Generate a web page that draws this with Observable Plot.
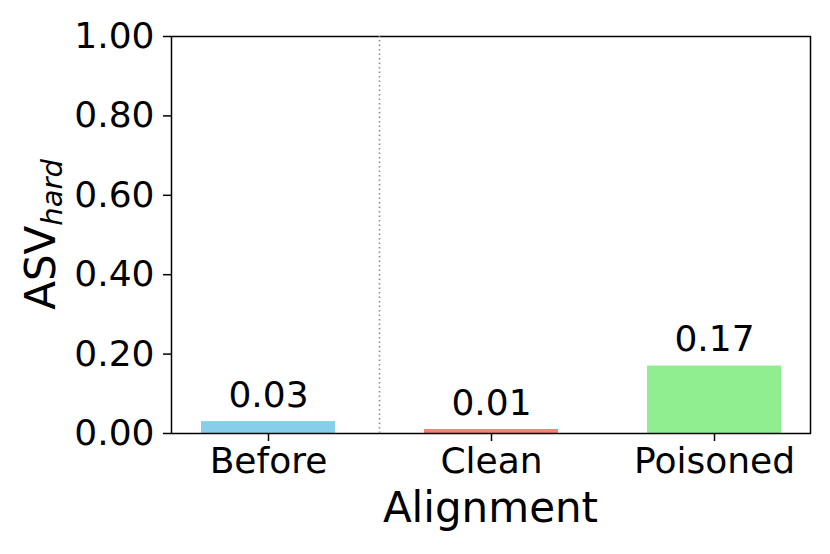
<!DOCTYPE html>
<html>
<head>
<meta charset="utf-8">
<script src="https://cdn.jsdelivr.net/npm/d3@7"></script>
<script src="https://cdn.jsdelivr.net/npm/@observablehq/plot@0.6"></script>
<style>
  html, body { margin: 0; padding: 0; background: white; }
</style>
</head>
<body>
<div id="chart"></div>
<script>
const categories = ["Before", "Clean", "Poisoned"];
const values = [0.03, 0.01, 0.17];
const colors = ["#87CEEB", "#FA8072", "#90EE90"];
const yTicks = [0, 0.2, 0.4, 0.6, 0.8, 1.0];
const dividerBetween = ["Before", "Clean"];

const data = categories.map((c, i) => ({category: c, value: values[i], color: colors[i]}));

const W = 830, H = 554;
const mL = 171, mR = 20, mT = 36, mB = 121;

const plot = Plot.plot({
  width: W,
  height: H,
  marginLeft: mL,
  marginRight: mR,
  marginTop: mT,
  marginBottom: mB,
  style: {fontFamily: "DejaVu Sans", fontSize: "36px", background: "white", color: "black"},
  x: {domain: categories, paddingInner: 0.4, paddingOuter: 0.13},
  y: {domain: [0, 1]},
  marks: [
    Plot.barY(data, {x: "category", y: "value", fill: "color"}),
    Plot.text(data, {x: "category", y: "value", text: d => d.value.toFixed(2), lineAnchor: "bottom", dy: -15, fontSize: 36, fill: "black"}),
    Plot.axisY({ticks: yTicks, tickFormat: d3.format(".2f"), tickSize: 8, tickPadding: 9, fontSize: 36, label: null, strokeWidth: 1.5}),
    Plot.axisX({tickSize: 8, tickPadding: 6, fontSize: 36, label: null, strokeWidth: 1.5}),
    Plot.frame({stroke: "black", strokeWidth: 1.5})
  ]
});

document.getElementById("chart").appendChild(plot);

const svg = d3.select(plot);
const xs = plot.scale("x");
const ys = plot.scale("y");
const xDiv = (xs.apply(dividerBetween[0]) + xs.bandwidth + xs.apply(dividerBetween[1])) / 2;
svg.append("line")
  .attr("x1", xDiv).attr("x2", xDiv)
  .attr("y1", ys.apply(0)).attr("y2", ys.apply(1))
  .attr("stroke", "#888").attr("stroke-width", 1.5).attr("stroke-dasharray", "1.5,3");

// X axis label
svg.append("text")
  .attr("x", (mL + W - mR) / 2)
  .attr("y", 522)
  .attr("text-anchor", "middle")
  .attr("font-size", 42)
  .attr("font-family", "DejaVu Sans")
  .attr("fill", "black")
  .text("Alignment");

// Y axis label with italic subscript
const yl = svg.append("text")
  .attr("transform", `translate(55, ${(mT + H - mB) / 2}) rotate(-90)`)
  .attr("text-anchor", "middle")
  .attr("font-size", 42)
  .attr("font-family", "DejaVu Sans")
  .attr("fill", "black");
yl.append("tspan").text("ASV");
yl.append("tspan").attr("font-style", "italic").attr("font-size", 29).attr("dy", 7).text("hard");
</script>
</body>
</html>
